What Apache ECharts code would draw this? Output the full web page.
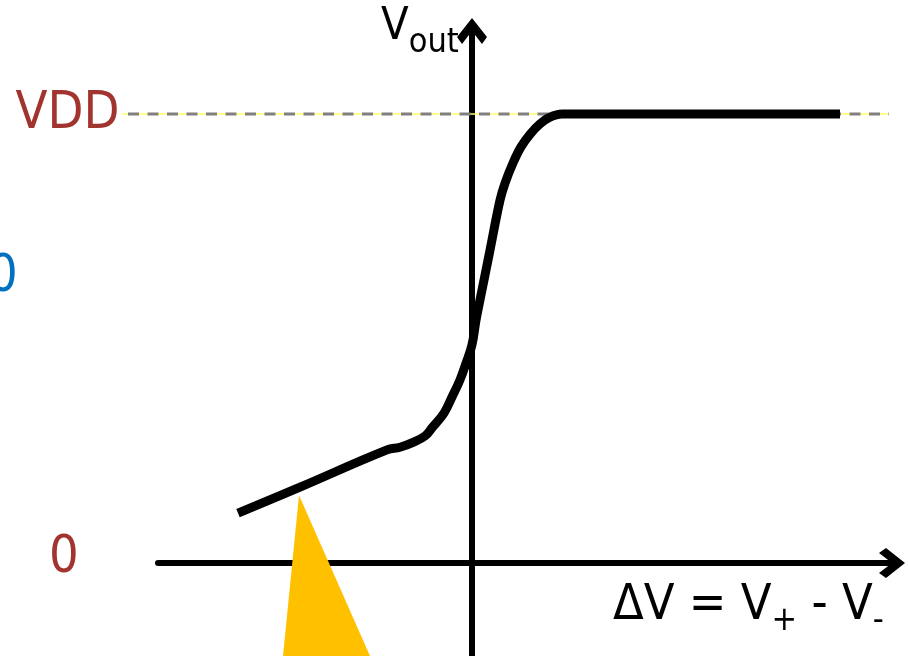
<!DOCTYPE html>
<html>
<head>
<meta charset="utf-8">
<script src="https://cdn.jsdelivr.net/npm/echarts@6/dist/echarts.min.js"></script>
<style>
  html, body { margin: 0; padding: 0; background: #fff; }
  #chart { width: 908px; height: 656px; }
</style>
</head>
<body>
<div id="chart"></div>
<script>
// transfer curve: ΔV in arbitrary units (0 on the Vout axis), Vout as a fraction of VDD
const curveDV   = [-2.34, -1.72, -0.85, -0.72, -0.59, -0.47, -0.40, -0.28, -0.20, -0.12, -0.06, 0.00, 0.04, 0.08, 0.18, 0.28, 0.33, 0.41, 0.49, 0.58, 0.68, 0.78, 0.90, 3.68]
const curveVout = [0.111, 0.169, 0.252, 0.258, 0.269, 0.283, 0.301, 0.334, 0.370, 0.408, 0.445, 0.486, 0.541, 0.586, 0.697, 0.808, 0.846, 0.891, 0.927, 0.955, 0.978, 0.993, 1.0, 1.0]

// dashed VDD reference line
const vddDV = [-3.50, 4.17]
const vddLevel = 1

// yellow pointer triangle
const triDV   = [-1.73, -1.89, -1.02]
const triVout = [0.151, -0.207, -0.207]

// axis ranges (same scale in both grids: the second one is wider for the VDD line)
const xRange = [-3.14, 4.20]
const xRangeWide = [-3.50, 4.17]
const yRange = [-0.207, 1.185]

const RED = '#A23430'
const FONT = '"DejaVu Sans Condensed", "DejaVu Sans", sans-serif'
// open chevron head for the axis arrows (points up, rotated by echarts)
const ARROW = 'path://M15 0 L30 19 L25 26 L15 13 L5 26 L0 19 Z'

const chart = echarts.init(document.getElementById('chart'), null, { renderer: 'canvas' })

const axisBase = {
  type: 'value',
  axisLine: {
    onZero: true,
    lineStyle: { color: '#000', width: 6 },
    symbol: ['none', ARROW],
    symbolSize: [30, 26],
  },
  axisTick: { show: false },
  axisLabel: { show: false },
  splitLine: { show: false },
}
const hiddenAxis = {
  type: 'value',
  gridIndex: 1,
  show: false,
  axisLine: { show: false },
  axisTick: { show: false },
  axisLabel: { show: false },
  splitLine: { show: false },
}

chart.setOption({
  animation: false,
  backgroundColor: '#fff',
  grid: [
    { left: 158, right: 16, top: 31, bottom: 0 },
    { left: 122, right: 19, top: 31, bottom: 0 },
  ],
  xAxis: [
    { ...axisBase, min: xRange[0], max: xRange[1] },
    { ...hiddenAxis, min: xRangeWide[0], max: xRangeWide[1] },
  ],
  yAxis: [
    { ...axisBase, min: yRange[0], max: yRange[1] },
    { ...hiddenAxis, min: yRange[0], max: yRange[1] },
  ],
  series: [
    {
      // yellow glow under the dashes
      type: 'line',
      xAxisIndex: 1,
      yAxisIndex: 1,
      silent: true,
      showSymbol: false,
      data: vddDV.map(x => [x, vddLevel]),
      lineStyle: { color: '#FFFF66', width: 1.5 },
      z: 2,
    },
    {
      type: 'line',
      xAxisIndex: 1,
      yAxisIndex: 1,
      silent: true,
      showSymbol: true,
      symbol: 'circle',
      symbolSize: 1,
      itemStyle: { color: 'rgba(0,0,0,0)' },
      data: vddDV.map(x => [x, vddLevel]),
      lineStyle: { color: '#808080', width: 3, type: [11, 8.5], dashOffset: 13.5 },
      label: {
        show: true,
        position: 'left',
        distance: 2,
        offset: [0, -4],
        formatter: p => (p.dataIndex === 0 ? 'VDD' : ''),
        color: RED,
        fontSize: 52,
        fontFamily: FONT,
      },
      labelLayout: { hideOverlap: false },
      z: 3,
    },
    {
      type: 'custom',
      clip: false,
      silent: true,
      data: triDV.map((x, i) => [x, triVout[i]]),
      renderItem: (params, api) => {
        if (params.dataIndex !== 0) return null
        return {
          type: 'polygon',
          shape: { points: triDV.map((x, i) => api.coord([x, triVout[i]])) },
          style: { fill: '#FFC000' },
        }
      },
      z: 4,
    },
    {
      type: 'line',
      silent: true,
      showSymbol: false,
      smooth: 0.4,
      data: curveDV.map((x, i) => [x, curveVout[i]]),
      lineStyle: { color: '#000', width: 9 },
      z: 5,
    },
  ],
  graphic: [
    {
      type: 'text', x: 3, y: 277,
      style: { text: '0', font: '52px ' + FONT, fill: '#0070C0', align: 'center', verticalAlign: 'middle' },
    },
    {
      type: 'text', x: 64, y: 558,
      style: { text: '0', font: '52px ' + FONT, fill: RED, align: 'center', verticalAlign: 'middle' },
    },
    {
      type: 'text', x: 381, y: 5,
      style: {
        text: '{m|V}{s|out}',
        align: 'left', verticalAlign: 'top',
        rich: {
          m: { fontSize: 45, lineHeight: 45, fontFamily: FONT, fill: '#000', verticalAlign: 'top' },
          s: { fontSize: 34, lineHeight: 34, fontFamily: FONT, fill: '#000', verticalAlign: 'top', padding: [21, 0, 0, 0] },
        },
      },
    },
    {
      type: 'text', x: 613, y: 581,
      style: {
        text: '{m|ΔV = V}{s|+}{m| - V}{s|-}',
        align: 'left', verticalAlign: 'top',
        rich: {
          m: { fontSize: 50, lineHeight: 50, fontFamily: FONT, fill: '#000', verticalAlign: 'top' },
          s: { fontSize: 34, lineHeight: 34, fontFamily: FONT, fill: '#000', verticalAlign: 'top', padding: [23, 0, 0, 0] },
        },
      },
    },
  ],
})
</script>
</body>
</html>
